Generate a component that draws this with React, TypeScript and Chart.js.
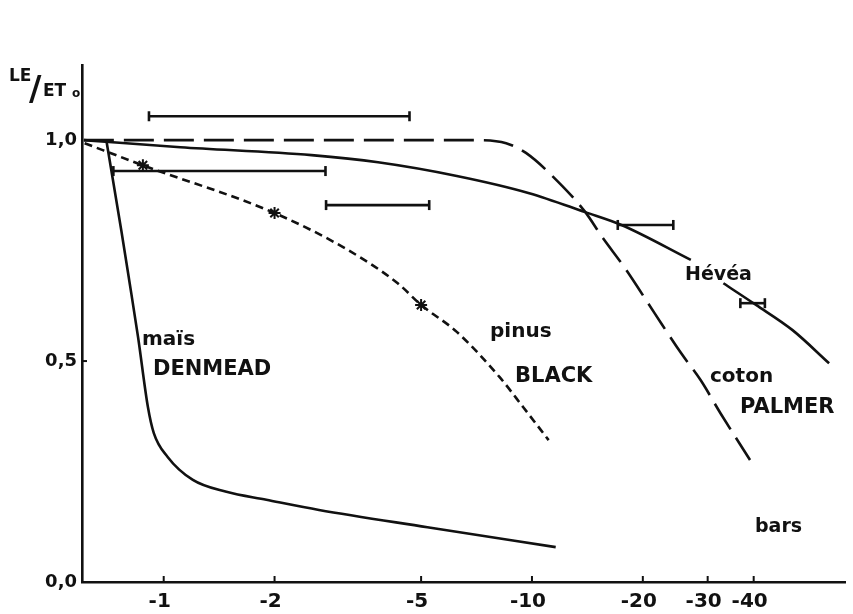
import React, { useEffect, useRef } from 'react';
import { Chart, registerables } from 'chart.js';

Chart.register(...registerables);

// ---- data (x = |water potential| in bars, y = LE/ETo) ----
const xTickValues = [1, 2, 5, 10, 20, 30, 40];
const yTickValues = [0, 0.5, 1.0];
const yTickLabels = ['0,0', '0,5', '1,0'];

const maisX = [0.70, 0.767, 0.806, 0.852, 0.906, 0.94, 1.025, 1.2, 1.48, 1.9, 2.64, 5.2, 11.6];
const maisY = [0.995, 0.796, 0.683, 0.554, 0.396, 0.337, 0.283, 0.231, 0.204, 0.186, 0.163, 0.124, 0.079];

const pinusX = [0.61, 0.878, 2.0, 3.17, 4.32, 5.0, 6.25, 8.16, 9.46, 11.1];
const pinusY = [0.993, 0.943, 0.835, 0.751, 0.676, 0.627, 0.566, 0.464, 0.396, 0.321];

const starX = [0.878, 2.0, 5.0];
const starY = [0.943, 0.835, 0.627];

const cotonX = [0.607, 2.33, 7.08, 8.51, 9.63, 11.8, 13.96, 15.5, 17.9, 21.5, 25.4, 28.7, 32.5, 39.1];
const cotonY = [1.0, 1.0, 1.0, 0.993, 0.971, 0.905, 0.837, 0.781, 0.71, 0.609, 0.518, 0.457, 0.382, 0.276];

const heveaX = [0.607, 1.11, 2.52, 3.82, 6.25, 9.83, 13.96, 17.5, 27.0, 30.0, 33.1, 40.6, 51.0, 64.1];
const heveaY = [1.0, 0.984, 0.966, 0.95, 0.919, 0.88, 0.837, 0.808, 0.729, null, 0.676, 0.627, 0.57, 0.495];

const barLo = [0.912, 0.73, 2.76, 17.1, 36.8];
const barHi = [4.65, 2.75, 5.26, 24.2, 42.9];
const barY = [1.054, 0.93, 0.853, 0.808, 0.631];

const FONT = '"DejaVu Sans", sans-serif';
const INK = '#111';

const toPts = (xs: number[], ys: (number | null)[]) => xs.map((x, i) => ({ x, y: ys[i] }));

const annotations = {
  id: 'annotations',
  afterDraw(chart: any) {
    const { ctx, chartArea, scales } = chart;
    ctx.save();
    // inward tick stubs
    ctx.strokeStyle = INK;
    ctx.lineWidth = 2;
    for (const v of xTickValues) {
      const px = scales.x.getPixelForValue(v);
      ctx.beginPath();
      ctx.moveTo(px, chartArea.bottom);
      ctx.lineTo(px, chartArea.bottom - 6);
      ctx.stroke();
    }
    const py5 = scales.y.getPixelForValue(0.5);
    ctx.beginPath();
    ctx.moveTo(chartArea.left, py5);
    ctx.lineTo(chartArea.left + 5, py5);
    ctx.stroke();

    ctx.fillStyle = INK;
    ctx.textBaseline = 'alphabetic';
    ctx.textAlign = 'left';
    const t = (s: string, x: number, y: number, size: number, weight = 'bold') => {
      ctx.font = `${weight} ${size}px ${FONT}`;
      ctx.fillText(s, x, y);
    };
    // axis title LE/ETo
    t('LE', 9, 81, 17);
    t('/', 29, 100, 34);
    t('ET', 43, 96, 17);
    t('o', 72, 97, 12);
    // curve labels
    t('maïs', 142, 345, 20);
    t('DENMEAD', 153, 375, 21);
    t('pinus', 490, 337, 20);
    t('BLACK', 515, 382, 21);
    t('coton', 710, 382, 20);
    t('PALMER', 740, 413, 21);
    t('Hévéa', 685, 280, 19);
    t('bars', 755, 532, 19);
    ctx.restore();
  },
};

export default function App() {
  const ref = useRef<HTMLCanvasElement>(null);
  useEffect(() => {
    const canvas = ref.current;
    if (!canvas) return;
    const lineBase = {
      borderColor: INK,
      backgroundColor: INK,
      pointRadius: 0,
      borderWidth: 2.6,
      fill: false,
      cubicInterpolationMode: 'monotone' as const,
    };
    const bars = barLo.map((lo, i) => ({
      label: 'bar' + i,
      data: [
        { x: lo, y: barY[i] },
        { x: barHi[i], y: barY[i] },
      ],
      borderColor: INK,
      backgroundColor: INK,
      borderWidth: 2.6,
      pointStyle: 'line',
      rotation: 90,
      pointRadius: 5,
      pointBorderWidth: 2.6,
    }));
    const chart = new Chart(canvas, {
      type: 'line',
      data: {
        datasets: [
          { ...lineBase, label: 'maïs DENMEAD', data: toPts(maisX, maisY) },
          { ...lineBase, label: 'pinus BLACK', data: toPts(pinusX, pinusY), borderDash: [8, 5] },
          { ...lineBase, label: 'coton PALMER', data: toPts(cotonX, cotonY), borderDash: [30, 10] },
          { ...lineBase, label: 'Hévéa', data: toPts(heveaX, heveaY) },
          {
            label: 'pinus points',
            data: toPts(starX, starY),
            showLine: false,
            pointStyle: 'star',
            pointRadius: 6,
            borderColor: INK,
            backgroundColor: INK,
            pointBorderWidth: 2,
          },
          ...bars,
        ] as any,
      },
      options: {
        responsive: false,
        devicePixelRatio: 1,
        animation: false,
        layout: { padding: { top: 65, left: 0, right: 0, bottom: 0 } },
        plugins: { legend: { display: false }, tooltip: { enabled: false }, title: { display: false } },
        scales: {
          x: {
            type: 'logarithmic',
            min: 0.607,
            max: 70.8,
            grid: { display: false, drawTicks: false },
            border: { display: true, color: INK, width: 2.6 },
            afterBuildTicks: (s: any) => {
              s.ticks = xTickValues.map((v) => ({ value: v }));
            },
            afterFit: (s: any) => {
              s.height = 32;
            },
            ticks: {
              autoSkip: false,
              maxRotation: 0,
              padding: 8,
              labelOffset: -4,
              color: INK,
              font: { family: FONT, size: 20, weight: 'bold' },
              callback: (v: any) => '-' + v,
            },
          },
          y: {
            type: 'linear',
            min: 0,
            max: 1.17,
            grid: { display: false, drawTicks: false },
            border: { display: true, color: INK, width: 2.6 },
            afterBuildTicks: (s: any) => {
              s.ticks = yTickValues.map((v) => ({ value: v }));
            },
            afterFit: (s: any) => {
              s.width = 82;
            },
            ticks: {
              padding: 5,
              color: INK,
              font: { family: FONT, size: 18, weight: 'bold' },
              callback: (v: any) => {
                const i = yTickValues.indexOf(Number(v));
                return i >= 0 ? yTickLabels[i] : '';
              },
            },
          },
        },
      } as any,
      plugins: [annotations],
    });
    return () => chart.destroy();
  }, []);

  return (
    <div style={{ position: 'fixed', left: 0, top: 0, width: 853, height: 614, background: '#fff' }}>
      <canvas ref={ref} width={853} height={614} style={{ display: 'block' }} />
    </div>
  );
}
